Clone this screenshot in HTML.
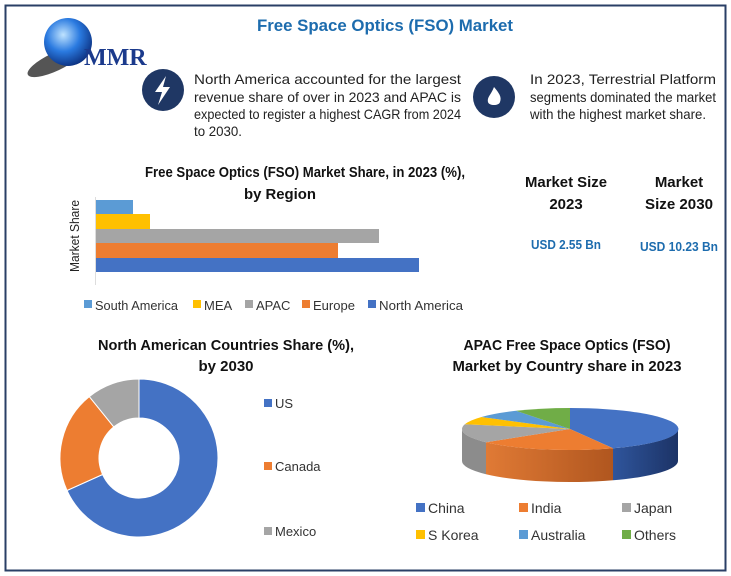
<!DOCTYPE html>
<html><head><meta charset="utf-8"><style>
html,body{margin:0;padding:0;background:#fff}
svg{display:block;font-family:"Liberation Sans Narrow","Liberation Sans",sans-serif}
</style></head><body>
<svg width="731" height="576" viewBox="0 0 731 576">
<defs>
<radialGradient id="g" cx="0.4" cy="0.35" r="0.7"><stop offset="0" stop-color="#bfe3ff"/><stop offset="0.5" stop-color="#2a7ae0"/><stop offset="1" stop-color="#0a2c7a"/></radialGradient>
<linearGradient id="cs" x1="0" x2="1"><stop offset="0" stop-color="#2f559c"/><stop offset="1" stop-color="#1c3366"/></linearGradient>
<linearGradient id="is" x1="0" x2="1"><stop offset="0" stop-color="#e07a35"/><stop offset="1" stop-color="#b0561f"/></linearGradient>
</defs>
<rect x="5.5" y="5.5" width="720" height="565" fill="#fff" stroke="#2a3f66" stroke-width="2"/>
<ellipse cx="55" cy="62" rx="30" ry="9" fill="#555" transform="rotate(-25 55 62)"/>
<circle cx="68" cy="42" r="24" fill="url(#g)"/>
<text x="84" y="65" font-family="Liberation Serif,serif" font-weight="bold" font-size="24" fill="#1b3a8c">MMR</text>
<text x="385" y="31" text-anchor="middle" font-weight="bold" font-size="17" fill="#1d6cae" textLength="256" lengthAdjust="spacingAndGlyphs">Free Space Optics (FSO) Market</text>
<circle cx="163" cy="90" r="21" fill="#1f3764"/>
<path d="M166 76 L155 92 L162 92 L158 105 L170 87 L163 87 Z" fill="#fff"/>
<circle cx="494" cy="97" r="21" fill="#1f3764"/>
<path d="M494 87 C499 93 502 97 500 102 C499 106 489 106 488 102 C487 97 491 95 494 87 Z" fill="#fff"/>
<g font-size="14" fill="#222">
<text x="194" y="84" textLength="267" lengthAdjust="spacingAndGlyphs">North America accounted for the largest</text>
<text x="194" y="102" textLength="267" lengthAdjust="spacingAndGlyphs">revenue share of over in 2023 and APAC is</text>
<text x="194" y="119" textLength="267" lengthAdjust="spacingAndGlyphs">expected to register a highest CAGR from 2024</text>
<text x="194" y="136" textLength="48" lengthAdjust="spacingAndGlyphs">to 2030.</text>
<text x="530" y="84" textLength="186" lengthAdjust="spacingAndGlyphs">In 2023, Terrestrial Platform</text>
<text x="530" y="102" textLength="186" lengthAdjust="spacingAndGlyphs">segments dominated the market</text>
<text x="530" y="119" textLength="176" lengthAdjust="spacingAndGlyphs">with the highest market share.</text>
</g>
<g font-weight="bold" font-size="15" fill="#111" text-anchor="middle">
<text x="305" y="177" textLength="320" lengthAdjust="spacingAndGlyphs">Free Space Optics (FSO) Market Share, in 2023 (%),</text>
<text x="280" y="199" textLength="72" lengthAdjust="spacingAndGlyphs">by Region</text>
<text x="566" y="187" textLength="82" lengthAdjust="spacingAndGlyphs">Market Size</text><text x="566" y="209">2023</text>
<text x="679" y="187">Market</text><text x="679" y="209" textLength="68" lengthAdjust="spacingAndGlyphs">Size 2030</text>
</g>
<text x="566" y="249" text-anchor="middle" font-weight="bold" font-size="12.5" fill="#1d6cae" textLength="70" lengthAdjust="spacingAndGlyphs">USD 2.55 Bn</text>
<text x="679" y="251" text-anchor="middle" font-weight="bold" font-size="12.5" fill="#1d6cae" textLength="78" lengthAdjust="spacingAndGlyphs">USD 10.23 Bn</text>
<text transform="translate(79 236) rotate(-90)" text-anchor="middle" font-size="12.5" fill="#222" textLength="72" lengthAdjust="spacingAndGlyphs">Market Share</text>
<rect x="95" y="200" width="38" height="14" fill="#5b9bd5"/>
<rect x="95" y="214" width="55" height="15" fill="#ffc000"/>
<rect x="95" y="229" width="284" height="14" fill="#a5a5a5"/>
<rect x="95" y="243" width="243" height="15" fill="#ed7d31"/>
<rect x="95" y="258" width="324" height="14" fill="#4472c4"/>
<line x1="95.5" y1="197" x2="95.5" y2="285" stroke="#ddd"/>
<g font-size="13" fill="#333">
<rect x="84" y="300" width="8" height="8" fill="#5b9bd5"/><text x="95" y="310" textLength="83" lengthAdjust="spacingAndGlyphs">South America</text>
<rect x="193" y="300" width="8" height="8" fill="#ffc000"/><text x="204" y="310">MEA</text>
<rect x="245" y="300" width="8" height="8" fill="#a5a5a5"/><text x="256" y="310">APAC</text>
<rect x="302" y="300" width="8" height="8" fill="#ed7d31"/><text x="313" y="310">Europe</text>
<rect x="368" y="300" width="8" height="8" fill="#4472c4"/><text x="379" y="310" textLength="84" lengthAdjust="spacingAndGlyphs">North America</text>
</g>
<g font-weight="bold" font-size="15" fill="#111" text-anchor="middle">
<text x="226" y="350" textLength="256" lengthAdjust="spacingAndGlyphs">North American Countries Share (%),</text>
<text x="226" y="371">by 2030</text>
<text x="567" y="350" textLength="207" lengthAdjust="spacingAndGlyphs">APAC  Free Space Optics (FSO)</text>
<text x="567" y="371" textLength="229" lengthAdjust="spacingAndGlyphs">Market by Country share in 2023</text>
</g>
<g stroke="#fff" stroke-width="1">
<path d="M139,379 A79,79 0 1 1 67,490.5 L102.6,474.5 A40,40 0 1 0 139,418 Z" fill="#4472c4"/>
<path d="M67,490.5 A79,79 0 0 1 89.3,396.6 L113.8,426.9 A40,40 0 0 0 102.6,474.5 Z" fill="#ed7d31"/>
<path d="M89.3,396.6 A79,79 0 0 1 139,379 L139,418 A40,40 0 0 0 113.8,426.9 Z" fill="#a5a5a5"/>
</g>
<g font-size="13" fill="#333">
<rect x="264" y="399" width="8" height="8" fill="#4472c4"/><text x="275" y="408">US</text>
<rect x="264" y="462" width="8" height="8" fill="#ed7d31"/><text x="275" y="471">Canada</text>
<rect x="264" y="527" width="8" height="8" fill="#a5a5a5"/><text x="275" y="536">Mexico</text>
</g>
<path d="M678,429 A108,21 0 0 1 613,448.3 L613,480.3 A108,21 0 0 0 678,461 Z" fill="url(#cs)"/>
<path d="M613,448.3 A108,21 0 0 1 486,442.2 L486,474.2 A108,21 0 0 0 613,480.3 Z" fill="url(#is)"/>
<path d="M486,442.2 A108,21 0 0 1 462,429 L462,461 A108,21 0 0 0 486,474.2 Z" fill="#8c8c8c"/>
<path d="M570,429 L570,408 A108,21 0 0 1 613,448.3 Z" fill="#4472c4"/>
<path d="M570,429 L613,448.3 A108,21 0 0 1 486,442.2 Z" fill="#ed7d31"/>
<path d="M570,429 L486,442.2 A108,21 0 0 1 464.8,424.3 Z" fill="#a5a5a5"/>
<path d="M570,429 L464.8,424.3 A108,21 0 0 1 481.5,417 Z" fill="#ffc000"/>
<path d="M570,429 L481.5,417 A108,21 0 0 1 516,410.8 Z" fill="#5b9bd5"/>
<path d="M570,429 L516,410.8 A108,21 0 0 1 570,408 Z" fill="#70ad47"/>
<g font-size="14" fill="#333">
<rect x="416" y="503" width="9" height="9" fill="#4472c4"/><text x="428" y="513">China</text>
<rect x="519" y="503" width="9" height="9" fill="#ed7d31"/><text x="531" y="513">India</text>
<rect x="622" y="503" width="9" height="9" fill="#a5a5a5"/><text x="634" y="513">Japan</text>
<rect x="416" y="530" width="9" height="9" fill="#ffc000"/><text x="428" y="540">S Korea</text>
<rect x="519" y="530" width="9" height="9" fill="#5b9bd5"/><text x="531" y="540">Australia</text>
<rect x="622" y="530" width="9" height="9" fill="#70ad47"/><text x="634" y="540">Others</text>
</g>
</svg>
</body></html>
